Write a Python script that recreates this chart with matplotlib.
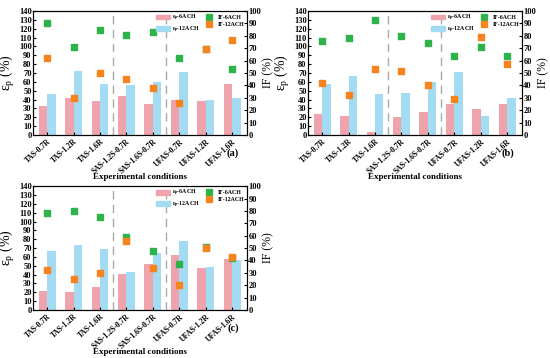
import matplotlib.pyplot as plt
import numpy as np
from matplotlib.patches import Patch
from matplotlib.lines import Line2D

conditions = ["TAS-0.7R", "TAS-1.2R", "TAS-1.6R", "SAS-1.2S-0.7R",
              "SAS-1.6S-0.7R", "UFAS-0.7R", "UFAS-1.2R", "UFAS-1.6R"]

# (a)
eps6_a = [33, 42, 38, 44, 35, 40, 38, 58]
eps12_a = [46, 72, 58, 57, 60, 71, 40, 42]
if6_a = [90, 71, 85, 81, 83, 62, 69, 53]
if12_a = [62, 30, 50, 45, 38, 26, 69, 77]

# (b)
eps6_b = [24, 21, 3, 20, 26, 35, 29, 35]
eps12_b = [58, 67, 46, 47, 60, 71, 22, 42]
if6_b = [76, 78, 93, 80, 74, 64, 71, 64]
if12_b = [42, 32, 53, 52, 40, 29, 79, 57]

# (c)
eps6_c = [22, 20, 26, 41, 52, 62, 48, 58]
eps12_c = [67, 74, 69, 43, 65, 78, 49, 56]
if6_c = [78, 80, 75, 59, 48, 37, 51, 42]
if12_c = [32, 25, 30, 56, 34, 20, 50, 43]

pink = "#EFA3AC"
blue = "#A3DBF3"
green = "#2EB34C"
orange = "#F7831F"

plt.rcParams["font.family"] = ["Liberation Serif", "DejaVu Serif"]
plt.rcParams["font.weight"] = "bold"
plt.rcParams["mathtext.fontset"] = "custom"
plt.rcParams["mathtext.rm"] = "Liberation Serif:bold"
plt.rcParams["mathtext.it"] = "Liberation Serif:bold"

fig = plt.figure(figsize=(5.5, 3.58), dpi=100)


def panel(rect, eps6, eps12, if6, if12, tag):
    ax = fig.add_axes(rect)
    x = np.arange(len(conditions))
    w = 0.32
    ax.bar(x - w / 2, eps6, w, color=pink)
    ax.bar(x + w / 2, eps12, w, color=blue)
    ax.set_xlim(-0.53, 7.55)
    ax.set_ylim(0, 140)
    ax.set_yticks(range(0, 141, 10))
    ax.set_xticks(x)
    ax.set_xticklabels(conditions, rotation=42, ha="right",
                       rotation_mode="anchor", fontsize=5.5, fontweight="bold")
    ax.tick_params(axis="y", labelsize=6, direction="in", length=2, pad=1)
    ax.tick_params(axis="x", direction="in", length=2, pad=2)
    for xv in (2.5, 4.5):
        ax.axvline(xv, color="#aaaaaa", lw=1, ls=(0, (6, 4)))
    ax.set_ylabel(r"$\mathregular{\varepsilon_p}$ (%)", fontsize=10, labelpad=1)
    ax.set_xlabel("Experimental conditions", fontsize=6.5, fontweight="bold")
    ax.xaxis.set_label_coords(0.5, -0.31)

    ax2 = ax.twinx()
    ax2.scatter(x, if6, marker="s", s=18, color=green, zorder=3)
    ax2.scatter(x, if12, marker="s", s=18, color=orange, zorder=4)
    ax2.set_ylim(0, 100)
    ax2.set_yticks(range(0, 101, 10))
    ax2.tick_params(axis="y", labelsize=6, direction="in", length=2, pad=1)
    ax2.set_ylabel("IF (%)", fontsize=8.5, labelpad=1)

    handles = [Patch(color=pink), Patch(color=blue),
               Line2D([], [], ls="", marker="s", ms=4.5, color=green),
               Line2D([], [], ls="", marker="s", ms=4.5, color=orange)]
    labels = [r"$\mathregular{\varepsilon_p}$-6ACH", r"$\mathregular{\varepsilon_p}$-12ACH",
              "IF-6ACH", "IF-12ACH"]
    ax2.legend(handles, labels, ncol=2, loc="upper right", frameon=False,
               fontsize=4.2, handlelength=2.4, handleheight=0.9,
               columnspacing=0.4, handletextpad=0.3, labelspacing=0.25,
               borderaxespad=0.1, bbox_to_anchor=(1.0, 1.01))
    ax.text(0.935, -0.15, tag, transform=ax.transAxes, fontsize=7.5,
            ha="center", va="center")
    return ax


panel([0.06, 0.623, 0.389, 0.346], eps6_a, eps12_a, if6_a, if12_a, "(a)")
panel([0.56, 0.623, 0.389, 0.346], eps6_b, eps12_b, if6_b, if12_b, "(b)")
panel([0.06, 0.134, 0.389, 0.346], eps6_c, eps12_c, if6_c, if12_c, "(c)")

fig.savefig("out.png", dpi=100)
